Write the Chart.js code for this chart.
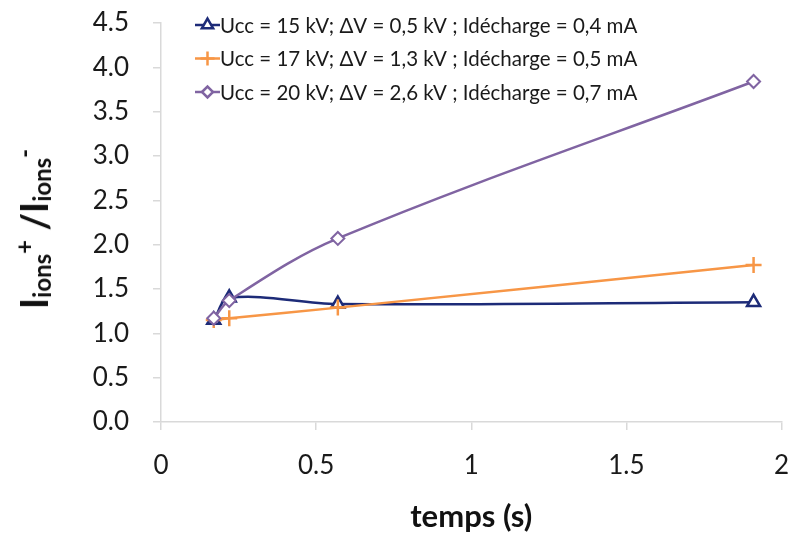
<!DOCTYPE html>
<html>
<head>
<meta charset="utf-8">
<script src="https://cdn.jsdelivr.net/npm/chart.js@4"></script>
<style>
  html, body { margin: 0; padding: 0; background: #fff; }
  #wrap { position: relative; width: 792px; height: 540px; }
  #ytitle {
    position: absolute; left: 33px; top: 229px;
    transform: translate(-50%, -50%) rotate(-90deg);
    font: bold 38px Lato, sans-serif; color: #111; white-space: nowrap;
    line-height: 1;
  }
  #ytitle .sb { font-size: 24px; vertical-align: -3px; }
  #ytitle .sp { font-size: 24px; vertical-align: 15px; }
</style>
</head>
<body>
<div id="wrap">
  <canvas id="chart" width="792" height="540"></canvas>
  <div id="ytitle">I<span class="sb">ions</span><span class="sp">+</span> /I<span class="sb">ions</span><span class="sp">-</span></div>
</div>
<script>
// time values (s)
var temps = [0.17, 0.22, 0.57, 1.91];

// Iions+ / Iions- ratio for each discharge condition
var ratio15 = [1.15, 1.40, 1.33, 1.35];
var ratio17 = [1.15, 1.17, 1.29, 1.77];
var ratio20 = [1.17, 1.37, 2.07, 3.84];

var labels = [
  'Ucc = 15 kV; ΔV = 0,5 kV ; Idécharge = 0,4 mA',
  'Ucc = 17 kV; ΔV = 1,3 kV ; Idécharge = 0,5 mA',
  'Ucc = 20 kV; ΔV = 2,6 kV ; Idécharge = 0,7 mA'
];

var xTicks = [0, 0.5, 1, 1.5, 2];
var yTicks = [0, 0.5, 1, 1.5, 2, 2.5, 3, 3.5, 4, 4.5];

function pts(ys) {
  return temps.map(function(t, i) { return { x: t, y: ys[i] }; });
}

// legend drawn inside the plot area, line + marker like the original
var insideLegend = {
  id: 'insideLegend',
  afterDraw: function(chart) {
    var ctx = chart.ctx;
    chart.data.datasets.forEach(function(ds, i) {
      var y = 25 + i * 33.5;
      ctx.save();
      ctx.strokeStyle = ds.borderColor;
      ctx.lineWidth = 2.5;
      ctx.beginPath();
      ctx.moveTo(195, y);
      ctx.lineTo(220, y);
      ctx.stroke();
      ctx.fillStyle = '#ffffff';
      Chart.helpers.drawPoint(ctx, {
        pointStyle: ds.pointStyle,
        radius: ds.pointRadius - 1,
        borderWidth: 2.5
      }, 207.5, y);
      ctx.fillStyle = '#1a1a1a';
      ctx.font = '20.5px Lato, sans-serif';
      ctx.textBaseline = 'middle';
      ctx.fillText(labels[i], 220, y + 1);
      ctx.restore();
    });
  }
};

var ctx = document.getElementById('chart').getContext('2d');
new Chart(ctx, {
  type: 'scatter',
  data: {
    datasets: [{
      label: labels[0],
      data: pts(ratio15),
      showLine: true,
      borderColor: '#1d2b78',
      backgroundColor: '#ffffff',
      borderWidth: 2.5,
      pointStyle: 'triangle',
      pointRadius: 7.5,
      pointBorderWidth: 2.5,
      tension: 0.35,
      order: 3
    }, {
      label: labels[1],
      data: pts(ratio17),
      showLine: true,
      borderColor: '#f79646',
      backgroundColor: '#ffffff',
      borderWidth: 2.5,
      pointStyle: 'cross',
      pointRadius: 8,
      pointBorderWidth: 2.5,
      tension: 0.35,
      order: 2
    }, {
      label: labels[2],
      data: pts(ratio20),
      showLine: true,
      borderColor: '#8064a2',
      backgroundColor: '#ffffff',
      borderWidth: 2.5,
      pointStyle: 'rectRot',
      pointRadius: 6.5,
      pointBorderWidth: 2,
      tension: 0.35,
      order: 1
    }]
  },
  options: {
    responsive: false,
    animation: false,
    layout: { padding: { top: 23, right: 8, left: 0, bottom: 4 } },
    plugins: {
      legend: { display: false },
      tooltip: { enabled: false }
    },
    scales: {
      x: {
        type: 'linear',
        min: 0, max: 2,
        afterBuildTicks: function(s) { s.ticks = xTicks.map(function(v) { return { value: v }; }); },
        afterFit: function(s) { s.height = 114; s.paddingLeft = 0; s.paddingRight = 0; },
        grid: { drawOnChartArea: false, color: '#d9d9d9', tickLength: 8, lineWidth: 1.5 },
        border: { color: '#d9d9d9', width: 1.5 },
        ticks: {
          font: { family: 'Lato', size: 26 },
          color: '#1a1a1a',
          padding: 20,
          maxRotation: 0,
          callback: function(v) { return String(v); }
        },
        title: {
          display: true,
          text: 'temps (s)',
          font: { family: 'Lato', size: 31, weight: 'bold' },
          color: '#111',
          padding: { top: 0, bottom: 0 }
        }
      },
      y: {
        min: 0, max: 4.5,
        afterBuildTicks: function(s) { s.ticks = yTicks.map(function(v) { return { value: v }; }); },
        afterFit: function(s) { s.width = 161; s.paddingTop = 0; s.paddingBottom = 0; },
        grid: { drawOnChartArea: false, color: '#d9d9d9', tickLength: 8, lineWidth: 1.5 },
        border: { color: '#d9d9d9', width: 1.5 },
        ticks: {
          font: { family: 'Lato', size: 26 },
          color: '#1a1a1a',
          padding: 24,
          callback: function(v) { return v.toFixed(1); }
        }
      }
    }
  },
  plugins: [insideLegend]
});
</script>
</body>
</html>
